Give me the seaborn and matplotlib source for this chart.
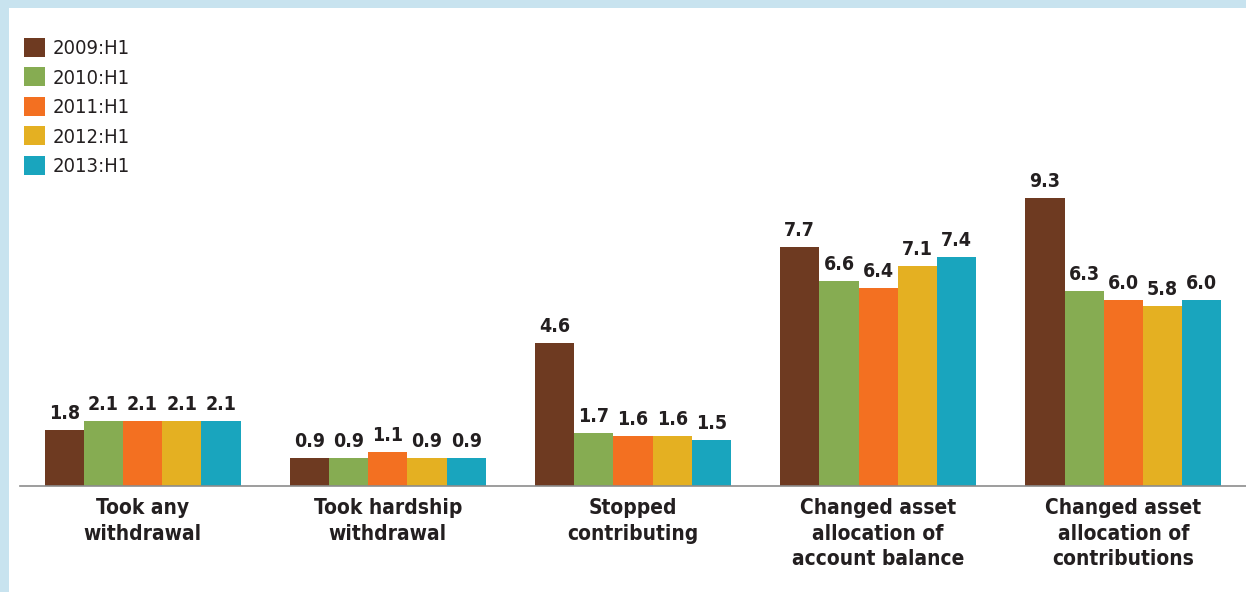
import matplotlib
matplotlib.use("Agg")
import matplotlib.pyplot as plt
import seaborn as sns
import pandas as pd
from matplotlib.patches import Rectangle, Patch

categories = ["Took any\nwithdrawal", "Took hardship\nwithdrawal", "Stopped\ncontributing",
              "Changed asset\nallocation of\naccount balance", "Changed asset\nallocation of\ncontributions"]
periods = ["2009:H1", "2010:H1", "2011:H1", "2012:H1", "2013:H1"]
v2009 = [1.8, 0.9, 4.6, 7.7, 9.3]
v2010 = [2.1, 0.9, 1.7, 6.6, 6.3]
v2011 = [2.1, 1.1, 1.6, 6.4, 6.0]
v2012 = [2.1, 0.9, 1.6, 7.1, 5.8]
v2013 = [2.1, 0.9, 1.5, 7.4, 6.0]
colors = ["#6E3A21", "#86AC52", "#F37021", "#E4B022", "#19A5BE"]

rows = []
for p, vals in zip(periods, [v2009, v2010, v2011, v2012, v2013]):
    for c, v in zip(categories, vals):
        rows.append({"category": c, "period": p, "value": v})
df = pd.DataFrame(rows)

sns.set_style("white")
plt.rcParams['font.family'] = ['DejaVu Sans']
plt.rcParams['font.stretch'] = 'condensed'

fig = plt.figure(figsize=(12.46, 5.92), dpi=100)
W, H = 1246, 592
ax = fig.add_axes([20 / W, (H - 486) / H, (1246 - 20) / W, (486 - 20) / H])
sns.barplot(data=df, x="category", y="value", hue="period", palette=colors,
            width=0.8, saturation=1, ax=ax, legend=False, order=categories, hue_order=periods,
            linewidth=0, edgecolor="none")
ax.set_xlim(-0.5, 4.5)
ax.set_ylim(0, (486 - 20) / 31.0)
for cont in ax.containers:
    ax.bar_label(cont, fmt="%.1f", padding=5, fontsize=14, fontweight="bold",
                 fontstretch="condensed", color="#231F20")
ax.set_xlabel("")
ax.set_ylabel("")
ax.set_yticks([])
for s in ["top", "right", "left"]:
    ax.spines[s].set_visible(False)
ax.spines["bottom"].set_color("#8C8C8C")
ax.spines["bottom"].set_linewidth(1.2)
ax.tick_params(axis="x", length=0, pad=9)
for lbl in ax.get_xticklabels():
    lbl.set_fontsize(15)
    lbl.set_fontweight("bold")
    lbl.set_fontstretch("condensed")
    lbl.set_color("#231F20")
    lbl.set_linespacing(1.34)

handles = [Patch(facecolor=c, edgecolor="none") for c in colors]
fig.legend(handles, periods, loc="upper left", bbox_to_anchor=(24 / W, 1 - 38 / H),
           frameon=False, prop={"size": 14.5, "stretch": "condensed"},
           handlelength=1.05, handleheight=1.05,
           handletextpad=0.38, labelspacing=0.46, borderaxespad=0, borderpad=0,
           labelcolor="#231F20")

fig.patches.append(Rectangle((0, 1 - 8 / H), 1, 8 / H, transform=fig.transFigure,
                             facecolor="#C8E3EF", edgecolor="none", zorder=0))
fig.patches.append(Rectangle((0, 0), 9 / W, 1, transform=fig.transFigure,
                             facecolor="#C8E3EF", edgecolor="none", zorder=0))

fig.savefig("out.png", dpi=100)
